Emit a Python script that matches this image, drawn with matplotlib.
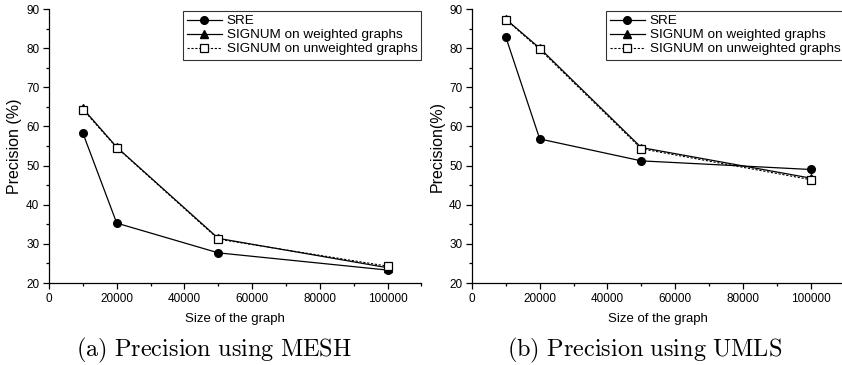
import numpy as np
import matplotlib.pyplot as plt
from matplotlib.ticker import MultipleLocator

plt.rcParams['font.family'] = ['Liberation Sans', 'DejaVu Sans']
plt.rcParams['mathtext.fontset'] = 'cm'

# data
sizes = [10000, 20000, 50000, 100000]

mesh_sre = [58.3, 35.3, 27.7, 23.3]
mesh_weighted = [64.6, 54.7, 31.4, 23.9]
mesh_unweighted = [64.3, 54.6, 31.2, 24.3]

umls_sre = [82.8, 56.8, 51.2, 49.0]
umls_weighted = [87.4, 80.0, 54.6, 46.8]
umls_unweighted = [87.3, 79.7, 54.3, 46.4]

ylabels = ['Precision (%)', 'Precision(%)']
captions = [r'$\mathrm{(a)\ Precision\ using\ MESH}$',
            r'$\mathrm{(b)\ Precision\ using\ UMLS}$']

fig = plt.figure(figsize=(8.42, 3.65), dpi=100)
W, H = 842, 365

def panel(x0, sre, weighted, unweighted, ylabel):
    ax = fig.add_axes([x0 / W, 1 - 283 / H, 372.5 / W, 274 / H])
    ax.plot(sizes, sre, '-', color='black', lw=0.9, marker='o', ms=5.5,
            label='SRE')
    ax.plot(sizes, weighted, '-', color='black', lw=0.9, marker='^', ms=5.5,
            label='SIGNUM on weighted graphs')
    ax.plot(sizes, unweighted, linestyle=(0, (2, 1.5)), color='black', lw=0.8,
            marker='s', ms=5.5, mfc='white', mec='black', mew=0.9,
            label='SIGNUM on unweighted graphs')
    ax.set_xlim(0, 110000)
    ax.set_ylim(20, 90)
    ax.xaxis.set_major_locator(MultipleLocator(20000))
    ax.xaxis.set_minor_locator(MultipleLocator(10000))
    ax.yaxis.set_major_locator(MultipleLocator(10))
    ax.yaxis.set_minor_locator(MultipleLocator(5))
    ax.spines['top'].set_visible(False)
    ax.spines['right'].set_visible(False)
    for s in ('left', 'bottom'):
        ax.spines[s].set_linewidth(0.9)
    ax.tick_params(which='major', direction='out', length=4.5, width=0.9,
                   labelsize=8.5, pad=2.5)
    ax.tick_params(which='minor', direction='out', length=2.5, width=0.9)
    ax.set_xlabel('Size of the graph', fontsize=9.5, labelpad=6)
    ax.set_ylabel(ylabel, fontsize=11.5, labelpad=3)
    leg = ax.legend(loc='upper right', bbox_to_anchor=(1.0, 0.993),
                    fontsize=9.7, frameon=True, fancybox=False,
                    handlelength=2.6, handletextpad=0.35, borderpad=0.3,
                    labelspacing=0.12, borderaxespad=0.0)
    leg.get_frame().set_edgecolor('black')
    leg.get_frame().set_linewidth(0.8)
    return ax

panel(49, mesh_sre, mesh_weighted, mesh_unweighted, ylabels[0])
panel(472, umls_sre, umls_weighted, umls_unweighted, ylabels[1])

fig.text(214 / W, 1 - 350 / H, captions[0], ha='center', va='center', fontsize=17.5)
fig.text(645 / W, 1 - 350 / H, captions[1], ha='center', va='center', fontsize=17.5)

fig.savefig('out.png', dpi=100)
